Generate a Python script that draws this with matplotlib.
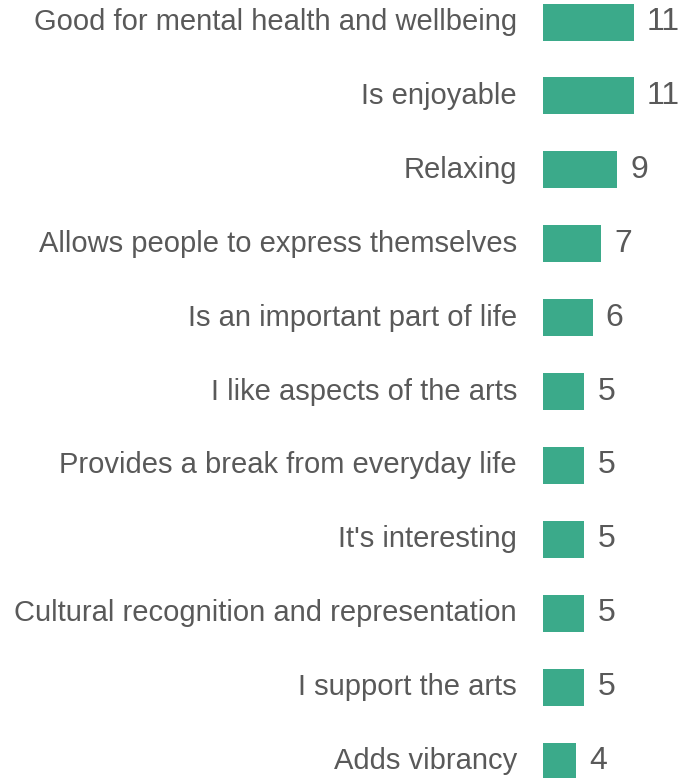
import matplotlib.pyplot as plt
import numpy as np

plt.rcParams['font.family'] = ['Liberation Sans', 'DejaVu Sans']

labels = [
    'Good for mental health and wellbeing',
    'Is enjoyable',
    'Relaxing',
    'Allows people to express themselves',
    'Is an important part of life',
    'I like aspects of the arts',
    'Provides a break from everyday life',
    "It's interesting",
    'Cultural recognition and representation',
    'I support the arts',
    'Adds vibrancy',
]
values = [11, 11, 9, 7, 6, 5, 5, 5, 5, 5, 4]

bar_color = '#3BAA8A'
text_color = '#595959'

W, H = 684, 778
fig = plt.figure(figsize=(W / 100, H / 100), dpi=100)
px_per_unit = 8.27
left = 543
ax = fig.add_axes([left / W, 0, (W - left) / W, 1])

n = len(values)
ypos = np.arange(n)[::-1]
row = 73.9
ax.barh(ypos, values, height=37 / row, color=bar_color)
ax.set_xlim(0, (W - left) / px_per_unit)
ax.set_ylim(-17 / row, (n - 1) + 22 / row)

for y, v, lab in zip(ypos, values, labels):
    ax.text(v + 13 / px_per_unit, y, str(v), va='center', ha='left',
            fontsize=23, color=text_color, clip_on=False)
    ax.text(-26 / px_per_unit, y, lab, va='center', ha='right',
            fontsize=21, color=text_color, clip_on=False)

ax.axis('off')
fig.savefig('out.png', dpi=100)
